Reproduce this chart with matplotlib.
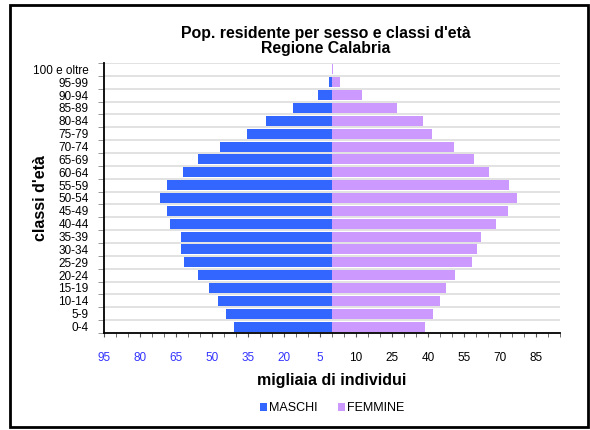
import matplotlib.pyplot as plt
import numpy as np
from matplotlib.patches import Rectangle

plt.rcParams['font.family'] = ['Liberation Sans', 'DejaVu Sans']

classes = ["0-4", "5-9", "10-14", "15-19", "20-24", "25-29", "30-34", "35-39",
           "40-44", "45-49", "50-54", "55-59", "60-64", "65-69", "70-74",
           "75-79", "80-84", "85-89", "90-94", "95-99", "100 e oltre"]
# thousands of residents
maschi = [40.8, 44.2, 47.5, 51.3, 55.8, 61.7, 62.9, 62.9, 67.5, 68.8, 71.7,
          68.8, 62.1, 55.8, 46.7, 35.4, 27.5, 16.3, 5.8, 1.2, 0.05]
femmine = [38.8, 42.1, 45.0, 47.5, 51.3, 58.3, 60.4, 62.1, 68.3, 73.3, 77.1,
           73.8, 65.4, 59.2, 50.8, 41.7, 37.9, 27.1, 12.5, 3.3, 0.3]
tick_vals = [-95, -80, -65, -50, -35, -20, -5, 10, 25, 40, 55, 70, 85]

blue = "#3366ff"
lilac = "#cc99ff"

fig = plt.figure(figsize=(5.9, 4.3), dpi=100)
ax = fig.add_axes([104 / 590, 1 - 333 / 430, 456 / 590, 270 / 430])

y = np.arange(len(classes))
ax.barh(y, -np.array(maschi), height=0.78, color=blue, label="MASCHI", zorder=2)
ax.barh(y, femmine, height=0.78, color=lilac, label="FEMMINE", zorder=2)

ax.set_xlim(-95, 95)
ax.set_ylim(-0.5, len(classes) - 0.5)

# horizontal grid between the classes
for g in np.arange(0.5, len(classes), 1.0):
    ax.axhline(g, color="#dddddd", lw=1.2, zorder=1)

ax.set_yticks(y)
ax.set_yticklabels(classes, fontsize=8.5)
ax.set_yticks(np.arange(-0.5, len(classes), 1.0), minor=True)
ax.tick_params(axis="y", which="major", length=0, pad=11)
ax.tick_params(axis="y", which="minor", length=4, color="#888888")

ax.set_xticks(tick_vals)
ax.set_xticklabels([str(abs(v)) for v in tick_vals], fontsize=8.5)
for lab, v in zip(ax.get_xticklabels(), tick_vals):
    lab.set_color("#3333ff" if v < 0 else "black")
ax.set_xticks(np.arange(-95, 96, 5), minor=True)
ax.tick_params(axis="x", which="both", length=3, pad=11, color="#555555")

for s in ["top", "right"]:
    ax.spines[s].set_visible(False)
ax.spines["left"].set_linewidth(1.3)
ax.spines["bottom"].set_linewidth(1.3)

ax.set_title("Pop. residente per sesso e classi d'età\nRegione Calabria",
             fontsize=11.4, fontweight="bold", pad=7, linespacing=1.05, x=0.486)
ax.set_xlabel("migliaia di individui", fontsize=11.5, fontweight="bold", labelpad=6)
ax.set_ylabel("classi d'età", fontsize=11.5, fontweight="bold")
ax.yaxis.set_label_coords(-0.123, 0.5)

ax.legend(loc="center", bbox_to_anchor=(0.5, -0.278), ncol=2, frameon=False,
          fontsize=9, handlelength=0.6, handleheight=0.6, handletextpad=0.15,
          columnspacing=1.6)

# outer frame
fig.patches.append(Rectangle((10 / 590, 3 / 430), 578 / 590, 422 / 430,
                             transform=fig.transFigure, fill=False,
                             edgecolor="black", lw=2))

fig.savefig("out.png", dpi=100)
